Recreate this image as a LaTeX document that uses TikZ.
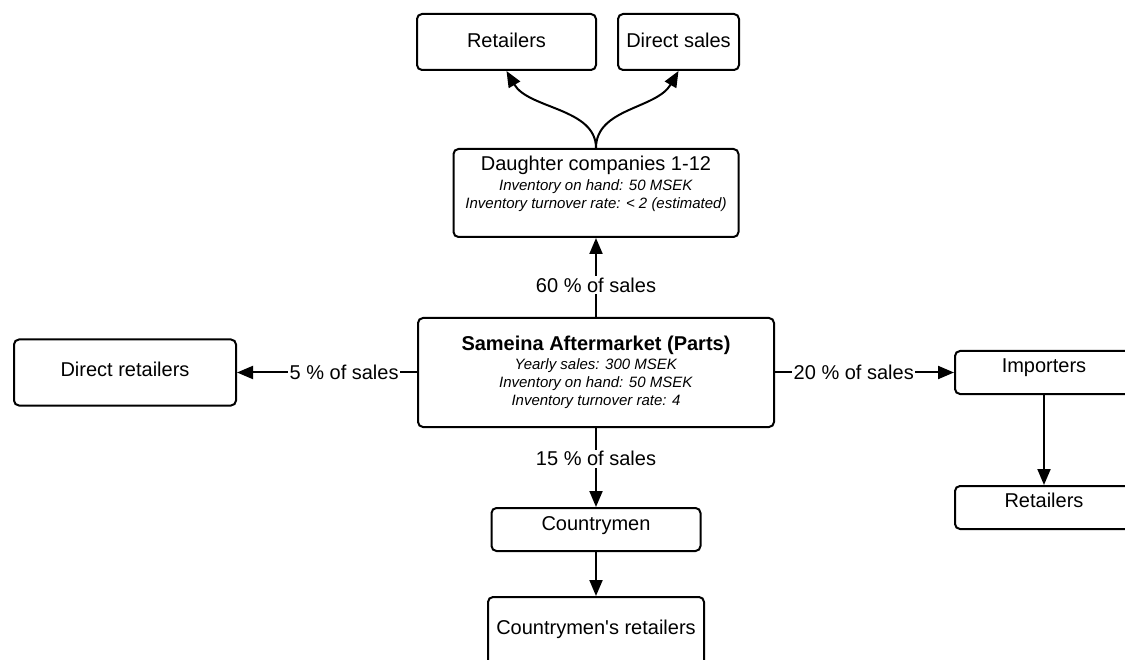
\documentclass[tikz,border=0pt]{standalone}
\usepackage{fontspec}
\setmainfont{Liberation Sans}[Ligatures=TeXOff]
\usetikzlibrary{arrows.meta}
\begin{document}
\begin{tikzpicture}[x=1pt,y=-1pt,
  box/.style={draw, line width=2pt, rounded corners=5pt, inner sep=0pt},
  lbl/.style={font=\fontsize{20}{24}\selectfont, inner sep=0pt, anchor=base},
  info/.style={align=center, inner sep=0pt, font=\fontsize{15}{18}\selectfont},
  flow/.style={line width=2pt, -{Triangle[length=16pt,width=13pt]}},
  pct/.style={fill=white, inner sep=1.5pt, font=\fontsize{20}{24}\selectfont}
]
\useasboundingbox (0,0) rectangle (1125,660);
\fill[white] (0,0) rectangle (1125,660);
\clip (0,0) rectangle (1125,660);

% boxes
\node[box, minimum width=179, minimum height=56] (ret1) at (506.5,42) {};
\node[box, minimum width=121, minimum height=56] (dsales) at (678.5,42) {};
\node[box, minimum width=285, minimum height=88] (dc) at (596,193) {};
\node[box, minimum width=356, minimum height=109] (sam) at (596,372.5) {};
\node[box, minimum width=222, minimum height=66] (dret) at (125,372.5) {};
\node[box, minimum width=178, minimum height=43] (imp) at (1044,372.5) {};
\node[box, minimum width=178, minimum height=43] (ret2) at (1044,507.5) {};
\node[box, minimum width=209, minimum height=43] (cm) at (596,529.5) {};
\node[box, minimum width=216, minimum height=80] (cmr) at (596,637) {};

% box texts
\node[lbl] (ret1t) at (506.5,48) {Retailers};
\node[lbl] (dsalest) at (678.5,48) {Direct sales};
\node[lbl] (drett) at (125,377) {Direct retailers};
\node[lbl] (impt) at (1044,373) {Importers};
\node[lbl] (ret2t) at (1044,507) {Retailers};
\node[lbl] (cmt) at (596,530) {Countrymen};
\node[lbl] (cmrt) at (596,634) {Countrymen's retailers};

\node[info, font=\fontsize{15}{17.5}\selectfont] (dct) at (596,184)
  {{\fontsize{20}{24}\selectfont Daughter companies 1-12}\\[2.5pt]
   \textit{Inventory on hand: 50 MSEK}\\
   \textit{Inventory turnover rate: < 2 (estimated)}};
\node[info] (samt) at (596,372.5)
  {{\fontsize{20}{24}\selectfont\bfseries Sameina Aftermarket (Parts)}\\[1.5pt]
   \textit{Yearly sales: 300 MSEK}\\
   \textit{Inventory on hand: 50 MSEK}\\
   \textit{Inventory turnover rate: 4}};

% connectors
\draw[flow] (sam.north) -- node[pct, pos=0.405] (p60) {60 \% of sales} (dc.south);
\draw[flow] (sam.west) -- node[pct, pos=0.405] (p5) {5 \% of sales} (dret.east);
\draw[flow] (sam.east) -- node[pct, pos=0.44] (p20) {20 \% of sales} (imp.west);
\draw[flow] (sam.south) -- node[pct, pos=0.39] (p15) {15 \% of sales} (cm.north);
\draw[flow] (imp.south) -- (ret2.north);
\draw[flow] (cm.south) -- (cmr.north);
\draw[flow] (dc.north) .. controls +(0,-40) and +(22,38) .. (ret1.south);
\draw[flow] (dc.north) .. controls +(0,-40) and +(-22,38) .. (dsales.south);
\end{tikzpicture}
\end{document}
